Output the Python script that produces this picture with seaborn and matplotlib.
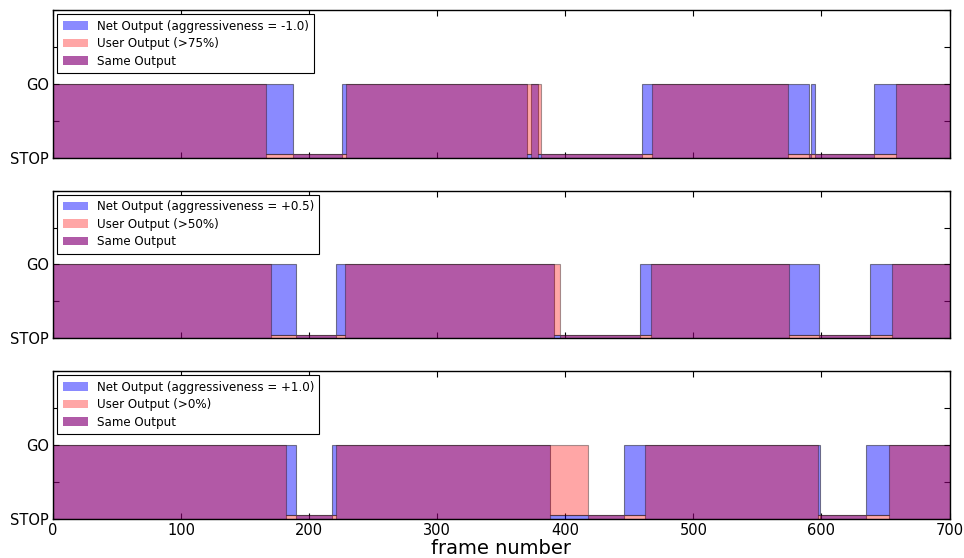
import numpy as np
import matplotlib
matplotlib.use("Agg")
import matplotlib.pyplot as plt
from matplotlib.patches import Patch
import seaborn as sns

# frames where each output says GO (start, end)
net_go_1 = [(0, 187), (226, 370), (373, 379), (460, 590), (592, 595), (641, 700)]
user_go_1 = [(0, 166), (229, 381), (468, 574), (658, 700)]

net_go_2 = [(0, 190), (221, 391), (458, 598), (638, 700)]
user_go_2 = [(0, 170), (228, 396), (467, 575), (655, 700)]

net_go_3 = [(0, 190), (218, 388), (446, 599), (635, 700)]
user_go_3 = [(0, 182), (221, 418), (462, 597), (653, 700)]

net_labels = ["Net Output (aggressiveness = -1.0)",
              "Net Output (aggressiveness = +0.5)",
              "Net Output (aggressiveness = +1.0)"]
user_labels = ["User Output (>75%)", "User Output (>50%)", "User Output (>0%)"]
same_label = "Same Output"
x_ticks = [0, 100, 200, 300, 400, 500, 600, 700]
y_labels = ["STOP", "", "GO", "", ""]

n_frames = 700
stop_h = 0.05

sns.set_theme(style="white", rc={
    "xtick.direction": "in", "ytick.direction": "in",
    "xtick.top": True, "ytick.right": True,
    "xtick.bottom": True, "ytick.left": True,
    "axes.edgecolor": "black", "axes.linewidth": 1.0,
    "xtick.major.size": 4, "ytick.major.size": 4,
    "xtick.major.width": 0.8, "ytick.major.width": 0.8,
    "xtick.color": "black", "ytick.color": "black",
    "xtick.major.pad": 3, "ytick.major.pad": 3,
    "text.color": "black", "axes.labelcolor": "black",
})
plt.rcParams["font.family"] = ["DejaVu Sans"]


def go_state(intervals, x):
    s = np.zeros(len(x), dtype=bool)
    for a, b in intervals:
        s |= (x >= a) & (x < b)
    s[-1] = s[-2]
    return s


fig, axes = plt.subplots(3, 1, figsize=(9.64, 5.58), dpi=100, sharex=True)
fig.subplots_adjust(left=0.055, right=0.985, bottom=0.070, top=0.982, hspace=0.22)

panels = [(net_go_1, user_go_1), (net_go_2, user_go_2), (net_go_3, user_go_3)]
for i, (ax, (net_go, user_go)) in enumerate(zip(axes, panels)):
    pts = {0, n_frames}
    for a, b in net_go + user_go:
        pts.update([a, b])
    x = np.array(sorted(pts), dtype=float)
    net = go_state(net_go, x)
    user = go_state(user_go, x)

    net_hi = np.where(net, 1.0, stop_h)
    net_lo = np.where(net & ~user, stop_h, 0.0)
    user_hi = np.where(user, 1.0, stop_h)
    user_lo = np.where(user & ~net, stop_h, 0.0)

    ax.fill_between(x, net_lo, net_hi, step="post", facecolor="blue",
                    edgecolor="black", linewidth=0.8, alpha=0.46)
    ax.fill_between(x, user_lo, user_hi, step="post", facecolor="red",
                    edgecolor="black", linewidth=0.8, alpha=0.35)

    handles = [Patch(facecolor="blue", alpha=0.46, edgecolor="none", label=net_labels[i]),
               Patch(facecolor="red", alpha=0.35, edgecolor="none", label=user_labels[i]),
               Patch(facecolor="#b05aa7", edgecolor="none", label=same_label)]
    leg = ax.legend(handles=handles, loc="upper left", fontsize=8.6, fancybox=False,
                    framealpha=1, edgecolor="black", borderaxespad=0.35,
                    labelspacing=0.38, handlelength=2.1, handletextpad=0.75,
                    borderpad=0.45)
    leg.get_frame().set_linewidth(0.8)

    ax.set_xlim(0, n_frames)
    ax.set_ylim(0, 2)
    ax.set_yticks([0, 0.5, 1, 1.5, 2])
    ax.set_yticklabels(y_labels, fontsize=10.5)
    ax.set_xticks(x_ticks)
    ax.tick_params(axis="x", labelsize=10.5)

axes[-1].set_xlabel("frame number", fontsize=14, labelpad=1)

fig.savefig("out.png", dpi=100)
